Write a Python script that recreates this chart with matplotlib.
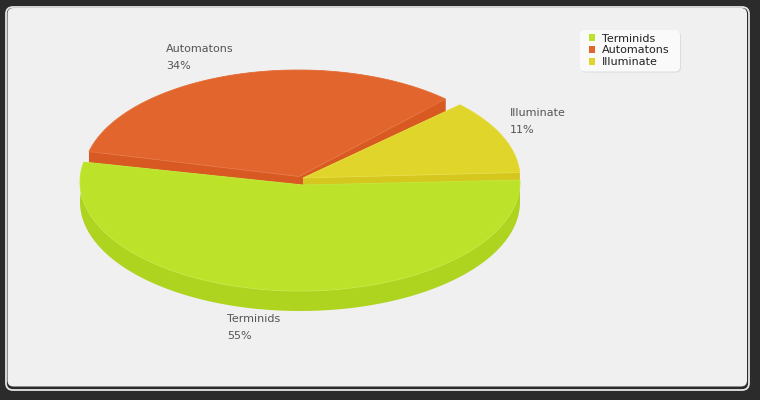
import numpy as np
import matplotlib
matplotlib.use("Agg")
import matplotlib.pyplot as plt
from matplotlib.patches import FancyBboxPatch, Rectangle

categories = ["Terminids", "Automatons", "Illuminate"]
shares = [54.6, 34.1, 11.3]
top_colors = ["#bce229", "#e1652d", "#e0d62b"]
wall_colors = ["#afd41f", "#d85a22", "#d6c71f"]
edge_colors = ["#c6e842", "#e67540", "#e6dc45"]

fig = plt.figure(figsize=(7.6, 4.0), dpi=100, facecolor="#2b2b2b")
ax = fig.add_axes([0, 0, 1, 1])
ax.set_xlim(0, 760)
ax.set_ylim(400, 0)
ax.axis("off")

ax.add_patch(FancyBboxPatch((6, 7), 743, 383, boxstyle="round,pad=0,rounding_size=7",
                            fc="#2b2b2b", ec="#e6e6e6", lw=1.3))
ax.add_patch(FancyBboxPatch((7.5, 8), 739.5, 378.5, boxstyle="round,pad=0,rounding_size=6",
                            fc="#f0f0f0", ec="none"))

DEPTH = 20
START = 3.0
# ellipse centre, apex, radii, angular trim of the low / high end of each slice
geometry = {
    "Terminids": dict(c=(300, 182), apex=(303, 185), rx=220, ry=109, trim=(3, -2)),
    "Automatons": dict(c=(298, 176.5), apex=(299, 176.5), rx=215, ry=106.5, trim=(3, 0)),
    "Illuminate": dict(c=(303, 178), apex=(303, 178), rx=217, ry=106, trim=(0, 0)),
}

spans = {}
a = START
for name, val in zip(categories, shares):
    spans[name] = (a - val * 3.6, a)
    a -= val * 3.6

for name in ["Automatons", "Illuminate", "Terminids"]:
    i = categories.index(name)
    g = geometry[name]
    a0, a1 = spans[name]
    th = np.radians(np.linspace(a0 + g["trim"][0], a1 + g["trim"][1], 240))
    x = g["c"][0] + g["rx"] * np.cos(th)
    y = g["c"][1] - g["ry"] * np.sin(th)
    px, py = g["apex"]
    for end in (0, -1):
        ax.fill([px, x[end], x[end], px], [py, y[end], y[end] + DEPTH, py + DEPTH],
                color=wall_colors[i], lw=0, zorder=2)
    ax.fill(np.r_[x, x[::-1]], np.r_[y, y[::-1] + DEPTH], color=wall_colors[i], lw=0, zorder=2)
    ax.fill(np.r_[px, x], np.r_[py, y], facecolor=top_colors[i],
            edgecolor=edge_colors[i], lw=0.6, zorder=2, joinstyle="round")

label_pos = {"Terminids": (227, 319), "Automatons": (166, 49), "Illuminate": (510, 113)}
for name, val in zip(categories, shares):
    lx, ly = label_pos[name]
    ax.text(lx, ly, name, fontsize=8, color="#555555", va="center", ha="left", zorder=5)
    ax.text(lx, ly + 17, f"{val:.0f}%", fontsize=8, color="#555555", va="center", ha="left", zorder=5)

# legend frame with soft shadow
ax.add_patch(FancyBboxPatch((581, 31), 100, 41.5, boxstyle="round,pad=0,rounding_size=5",
                            fc="#dcdcdc", ec="none", zorder=5))
ax.add_patch(FancyBboxPatch((580, 30), 100, 41.5, boxstyle="round,pad=0,rounding_size=5",
                            fc="#fafafa", ec="none", zorder=5))
handles = [Rectangle((0, 0), 1, 1, fc=c, ec="none") for c in top_colors]
leg = ax.legend(handles, categories, loc="upper left", bbox_to_anchor=(589 / 760, 1 - 33.5 / 400),
                frameon=False, fontsize=8, labelcolor="#222222", handlelength=0.55, handleheight=0.55,
                handletextpad=0.6, labelspacing=0.17, borderpad=0, borderaxespad=0)
leg.set_zorder(6)

fig.savefig("out.png", dpi=100, facecolor=fig.get_facecolor())
